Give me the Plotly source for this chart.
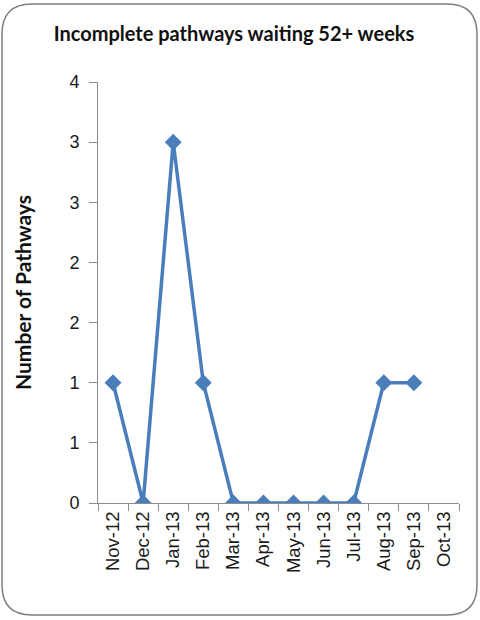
import plotly.graph_objects as go

# Monthly counts of incomplete pathways waiting 52+ weeks
months = ["Nov-12", "Dec-12", "Jan-13", "Feb-13", "Mar-13", "Apr-13",
          "May-13", "Jun-13", "Jul-13", "Aug-13", "Sep-13", "Oct-13"]
pathways = [1, 0, 3, 1, 0, 0, 0, 0, 0, 1, 1, None]

# Value axis runs in half steps, labels shown as whole numbers
y_tick_vals = [0, 0.5, 1, 1.5, 2, 2.5, 3, 3.5]
y_tick_text = ["0", "1", "1", "2", "2", "3", "3", "4"]

W, H = 480, 620
L, R, T, B = 98, 21, 82, 117
PW, PH = W - L - R, H - T - B


def px(x, y):
    """Pixel position -> paper coordinates."""
    return (x - L) / PW, (H - B - y) / PH


def rounded_rect(x0, y0, x1, y1, r):
    pts = [
        ("M", [(x0 + r, y0)]),
        ("L", [(x1 - r, y0)]),
        ("Q", [(x1, y0), (x1, y0 + r)]),
        ("L", [(x1, y1 - r)]),
        ("Q", [(x1, y1), (x1 - r, y1)]),
        ("L", [(x0 + r, y1)]),
        ("Q", [(x0, y1), (x0, y1 - r)]),
        ("L", [(x0, y0 + r)]),
        ("Q", [(x0, y0), (x0 + r, y0)]),
    ]
    out = []
    for cmd, coords in pts:
        s = " ".join("%.5f,%.5f" % px(cx, cy) for cx, cy in coords)
        out.append(cmd + s)
    return " ".join(out) + " Z"


fig = go.Figure()
fig.add_trace(go.Scatter(
    x=months, y=pathways,
    mode="lines+markers",
    line=dict(color="#4A7EBB", width=3.5),
    marker=dict(symbol="diamond", size=13, color="#4A7EBB"),
    connectgaps=False,
    showlegend=False,
))

fig.update_layout(
    width=W, height=H,
    margin=dict(l=L, r=R, t=T, b=B, autoexpand=False),
    paper_bgcolor="white", plot_bgcolor="white",
    title=dict(
        text="<b>Incomplete pathways waiting 52+ weeks</b>",
        x=(52 + 416) / 2 / W, xanchor="center",
        y=1 - 34 / H, yanchor="middle",
        font=dict(family="Lato", size=20, color="#111111"),
    ),
    xaxis=dict(
        type="category", categoryorder="array", categoryarray=months,
        range=[-0.5, len(months) - 0.5],
        showline=True, linecolor="#8C8C8C", linewidth=1,
        ticks="outside", ticklen=7, tickcolor="#8C8C8C", tickson="boundaries",
        tickangle=-90, showgrid=False, zeroline=False,
        tickfont=dict(family="Liberation Sans", size=18.5, color="#1A1A1A"),
    ),
    yaxis=dict(
        range=[0, 3.5], tickvals=y_tick_vals, ticktext=y_tick_text,
        showline=True, linecolor="#8C8C8C", linewidth=1,
        ticks="outside", ticklen=8, tickcolor="#8C8C8C",
        ticklabelstandoff=6,
        showgrid=False, zeroline=False,
        tickfont=dict(family="Liberation Sans", size=18, color="#1A1A1A"),
        title=dict(text="<b>Number of Pathways</b>", standoff=32,
                   font=dict(family="Lato", size=21, color="#111111")),
    ),
    shapes=[dict(
        type="path", xref="paper", yref="paper",
        path=rounded_rect(2, 4, 477, 615, 30),
        line=dict(color="#7F7F7F", width=1.5),
        fillcolor="rgba(0,0,0,0)", layer="below",
    )],
)

fig.write_html("out.html")
